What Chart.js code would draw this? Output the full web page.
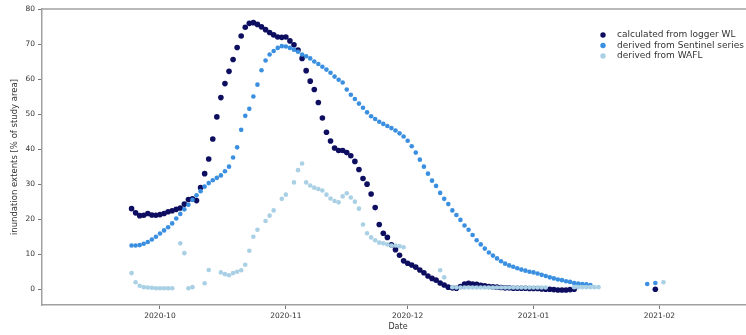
<!DOCTYPE html>
<html><head><meta charset="utf-8">
<script src="https://cdn.jsdelivr.net/npm/chart.js@4/dist/chart.umd.min.js"></script>
<style>html,body{margin:0;padding:0;overflow:hidden;background:#fff}
#wrap{width:746px;height:335px;overflow:hidden;position:relative;background:#fff}
canvas{display:block}</style></head>
<body><div id="wrap"><canvas id="c" width="760" height="335"></canvas></div>
<script>
// x values are days counted from 2020-10-01
const tickDays = [0, 31, 61, 92, 123];
const tickLabels = ['2020-10', '2020-11', '2020-12', '2021-01', '2021-02'];
const yTicks = [0, 10, 20, 30, 40, 50, 60, 70, 80];
const seriesNames = ['calculated from logger WL', 'derived from Sentinel series', 'derived from WAFL'];

// calculated from logger WL, daily from day -7
const loggerStart = -7;
const loggerWL = [
  23.0, 21.8, 21.0, 21.1, 21.6, 21.2, 21.1, 21.3, 21.6, 22.1, 22.4, 22.8, 23.2, 24.3, 25.6, 25.8, 25.3,
  29.0, 33.0, 37.2, 42.9, 49.2, 54.7, 58.7, 62.2, 65.6, 69.0, 72.3, 74.8, 75.9, 76.1, 75.6, 74.9, 74.1, 73.3, 72.6, 72.0, 71.9,
  72.0, 70.9, 69.8, 68.3, 65.9, 62.4, 59.4, 57.0, 53.3, 48.9, 44.8, 42.3, 40.3, 39.6, 39.6, 39.0, 38.1, 36.5, 34.2, 31.6,
  30.0, 27.2, 23.3, 18.5, 16.0, 14.8, 12.7, 11.3, 9.7, 8.1, 7.4, 6.9, 6.3, 5.5, 4.7, 3.8, 3.1, 2.6, 1.8, 1.2,
  0.6, 0.4, 0.3, 0.8, 1.5, 1.7, 1.5, 1.4, 1.1, 1.0, 0.8, 0.7, 0.6, 0.5,
  0.4, 0.4, 0.3, 0.3, 0.3, 0.3, 0.2, 0.2, 0.2, 0.1,
  0.0, 0.0, -0.1, -0.2, -0.2, -0.2, -0.1, 0.0
];
const loggerFebDays = [122];
const loggerFeb = [0.0];

// derived from Sentinel series, daily from day -7
const sentinelStart = -7;
const sentinel = [
  12.5, 12.5, 12.6, 13.0, 13.5, 14.2, 15.0, 15.9, 16.8, 17.7, 18.8, 20.2, 21.5, 22.8, 24.1, 25.5, 26.8,
  28.0, 29.3, 30.3, 31.1, 31.8, 32.5, 33.7, 35.0, 37.6, 40.5, 45.5, 49.5, 51.5, 55.0, 58.4, 62.5, 65.3, 67.0, 68.0, 68.9, 69.4,
  69.3, 68.9, 68.4, 67.8, 67.0, 66.5, 65.9, 65.0, 64.3, 63.5, 62.7, 61.8, 60.7, 59.8, 59.0, 57.0, 55.5, 54.3, 53.0, 51.8,
  50.5, 49.4, 48.6, 47.8, 47.2, 46.6, 46.0, 45.3, 44.5, 43.6, 42.4, 40.8, 39.0, 37.0, 35.0, 33.0, 31.0, 29.5, 27.5, 25.8,
  24.3, 22.5, 21.2, 19.8, 18.2, 17.0, 15.5, 14.0, 12.8, 11.6, 10.5, 9.6, 8.8, 8.0,
  7.3, 6.8, 6.4, 6.0, 5.6, 5.3, 5.0, 4.8, 4.5, 4.1,
  3.8, 3.4, 3.1, 2.8, 2.6, 2.3, 2.1, 1.8, 1.6, 1.5, 1.4, 1.2
];
const sentinelFebDays = [120, 122];
const sentinelFeb = [1.5, 1.8];

// derived from WAFL, daily from day -7 (null = no value)
const waflStart = -7;
const wafl = [
  4.6, 2.0, 1.0, 0.6, 0.5, 0.4, 0.3, 0.3, 0.3, 0.3, 0.3, null, 13.1, 10.3, 0.3, 0.6, null,
  null, 1.7, 5.5, null, null, 4.8, 4.3, 4.0, 4.6, 5.0, 5.4, 7.0, 11.0, 15.0, 17.0, null, 19.5, 21.0, 22.5, null, 25.8,
  27.0, null, 30.5, 34.0, 35.9, 30.5, 29.6, 29.0, 28.6, 28.2, 27.0, 25.9, 25.2, 24.8, 26.5, 27.4, 26.2, 25.0, 23.0, 18.5,
  16.0, 14.8, 14.0, 13.3, 13.1, 12.8, 12.5, 12.5, 12.3, 12.0, null, null, null, null, null, null, null, null,
  5.4, 3.4, null, 0.6, 0.5, 0.5, 0.5, 0.5, 0.5, 0.5, 0.5, 0.5, 0.5, 0.5, 0.5, 0.5, 0.5,
  0.5, 0.5, 0.5, 0.5, 0.5, 0.5, 0.5, 0.5, 0.5, 0.5,
  null, null, null, null, null, null, 0.6, 0.6, 0.6, 0.6, 0.6, 0.6, 0.6
];
const waflFebDays = [124];
const waflFeb = [2.0];

const colors = ['#0e0e60', '#3a8fe0', '#a9d0e4'];
const radii = [2.8, 2.3, 2.3];

function toPoints(start, vals, extraDays, extraVals) {
  const pts = [];
  vals.forEach((v, i) => { if (v !== null) pts.push({x: start + i, y: v}); });
  extraDays.forEach((d, i) => pts.push({x: d, y: extraVals[i]}));
  return pts;
}

const FONT = 'DejaVu Sans';

const framePlugin = {
  id: 'frame',
  afterDraw(chart) {
    const {ctx, chartArea: a} = chart;
    ctx.save();
    ctx.strokeStyle = '#a0a0a0';
    ctx.lineWidth = 1.5;
    ctx.beginPath();
    ctx.moveTo(a.left, a.top);
    ctx.lineTo(a.right, a.top);
    ctx.stroke();
    ctx.restore();
  }
};

const legendPlugin = {
  id: 'customLegend',
  afterDraw(chart) {
    const {ctx} = chart;
    ctx.save();
    ctx.font = '9px "' + FONT + '"';
    ctx.textBaseline = 'middle';
    chart.data.datasets.forEach((ds, i) => {
      const y = 35 + i * 10.5;
      ctx.beginPath();
      ctx.fillStyle = ds.backgroundColor;
      ctx.arc(603, y, 2.7, 0, Math.PI * 2);
      ctx.fill();
      ctx.fillStyle = '#333';
      ctx.fillText(ds.label, 617, y);
    });
    ctx.restore();
  }
};

new Chart(document.getElementById('c').getContext('2d'), {
  type: 'scatter',
  data: {
    datasets: [
      {label: seriesNames[0], data: toPoints(loggerStart, loggerWL, loggerFebDays, loggerFeb),
       backgroundColor: colors[0], borderColor: colors[0], pointRadius: radii[0], borderWidth: 0, order: 3},
      {label: seriesNames[1], data: toPoints(sentinelStart, sentinel, sentinelFebDays, sentinelFeb),
       backgroundColor: colors[1], borderColor: colors[1], pointRadius: radii[1], borderWidth: 0, order: 2},
      {label: seriesNames[2], data: toPoints(waflStart, wafl, waflFebDays, waflFeb),
       backgroundColor: colors[2], borderColor: colors[2], pointRadius: radii[2], borderWidth: 0, order: 1}
    ]
  },
  options: {
    responsive: false,
    animation: false,
    layout: {padding: {top: 9, right: 6, left: 0, bottom: 0}},
    plugins: {legend: {display: false}, tooltip: {enabled: false}},
    scales: {
      x: {
        type: 'linear', min: -29.06, max: 146.3,
        afterBuildTicks: s => { s.ticks = tickDays.map(v => ({value: v})); },
        afterFit: s => { s.height = 30; },
        ticks: {callback: v => tickLabels[tickDays.indexOf(v)], font: {family: FONT, size: 7.5}, color: '#333', padding: 3, maxRotation: 0, autoSkip: false},
        grid: {drawOnChartArea: false, tickLength: 4, color: '#777'},
        border: {color: '#a0a0a0', width: 1.5},
        title: {display: true, text: 'Date', font: {family: FONT, size: 8}, color: '#333', padding: {top: 0, bottom: 3}}
      },
      y: {
        min: -4.5, max: 80,
        afterBuildTicks: s => { s.ticks = yTicks.map(v => ({value: v})); },
        afterFit: s => { s.width = 42; },
        ticks: {font: {family: FONT, size: 7.5}, color: '#333', padding: 3},
        grid: {drawOnChartArea: false, tickLength: 4, color: '#777'},
        border: {color: '#a0a0a0', width: 1.5},
        title: {display: true, text: 'inundation extents [% of study area]', font: {family: FONT, size: 8.5}, color: '#333', padding: {top: 10, bottom: 0}}
      }
    }
  },
  plugins: [framePlugin, legendPlugin]
});
</script>
</body></html>
